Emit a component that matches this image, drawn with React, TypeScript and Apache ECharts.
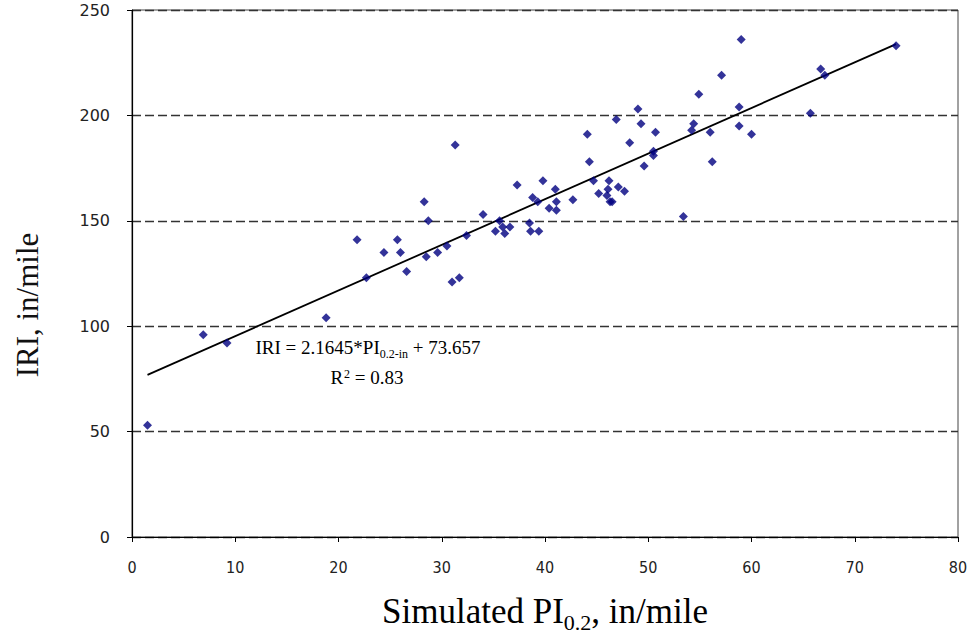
import React, { useEffect, useRef } from "react";
import * as echarts from "echarts";

const xTicks = [0, 10, 20, 30, 40, 50, 60, 70, 80];
const yTicks = [0, 50, 100, 150, 200, 250];

const piValues = [
  1.5, 6.9, 9.2, 18.8, 21.8, 22.7, 24.4, 25.7, 26.0, 26.6,
  28.3, 28.5, 28.7, 29.6, 30.5, 31.0, 31.3, 31.7, 32.4, 34.0,
  35.2, 35.6, 35.9, 36.1, 36.6, 37.3, 38.5, 38.6, 38.8, 39.3,
  39.4, 39.8, 40.4, 41.0, 41.1, 41.1, 42.7, 44.1, 44.3, 44.7,
  45.2, 46.0, 46.1, 46.2, 46.3, 46.5, 46.9, 47.1, 47.7, 48.2,
  49.0, 49.3, 49.6, 50.5, 50.5, 50.7, 53.4, 54.2, 54.4, 54.9,
  56.0, 56.2, 57.1, 58.8, 58.8, 59.0, 60.0, 65.7, 66.7, 67.1,
  74.0,
];
const iriValues = [
  53, 96, 92, 104, 141, 123, 135, 141, 135, 126,
  159, 133, 150, 135, 138, 121, 186, 123, 143, 153,
  145, 150, 147, 144, 147, 167, 149, 145, 161, 159,
  145, 169, 156, 165, 159, 155, 160, 191, 178, 169,
  163, 162, 165, 169, 159, 159, 198, 166, 164, 187,
  203, 196, 176, 183, 181, 192, 152, 193, 196, 210,
  192, 178, 219, 195, 204, 236, 191, 201, 222, 219,
  233,
];

const slope = 2.1645;
const intercept = 73.657;
const fitRange = [1.5, 74.0];

const SERIF = "'Liberation Serif', 'Times New Roman', serif";

export default function App() {
  const ref = useRef<HTMLDivElement>(null);

  useEffect(() => {
    if (!ref.current) return;
    const chart = echarts.init(ref.current, null, { renderer: "svg" });
    const points = piValues.map((x, i) => [x, iriValues[i]]);
    const fit = fitRange.map((x) => [x, slope * x + intercept]);

    const subRich = {
      b: { fontFamily: SERIF, fontSize: 19, lineHeight: 22, verticalAlign: "top", color: "#111" },
      s: { fontFamily: SERIF, fontSize: 12, lineHeight: 12, verticalAlign: "top", padding: [10, 0, 0, 0], color: "#111" },
      p: { fontFamily: SERIF, fontSize: 12, lineHeight: 12, verticalAlign: "top", padding: [0, 0, 0, 1], color: "#111" },
    };
    const titleRich = {
      b: { fontFamily: SERIF, fontSize: 35, lineHeight: 40, verticalAlign: "top", color: "#111" },
      s: { fontFamily: SERIF, fontSize: 22, lineHeight: 22, verticalAlign: "top", padding: [17, 0, 0, 0], color: "#111" },
    };

    chart.setOption({
      animation: false,
      backgroundColor: "#ffffff",
      grid: {
        left: 132,
        right: 15,
        top: 10,
        bottom: 97,
        show: true,
        borderColor: "#444",
        borderWidth: 1,
        backgroundColor: "transparent",
        outerBoundsMode: "none",
      },
      xAxis: {
        type: "value",
        min: xTicks[0],
        max: xTicks[xTicks.length - 1],
        interval: 10,
        axisLine: { show: true, lineStyle: { color: "#000", width: 1.2 } },
        axisTick: { show: true, length: 5, lineStyle: { color: "#000" } },
        splitLine: { show: false },
        axisLabel: {
          margin: 22,
          fontFamily: "'DejaVu Sans Condensed', 'Liberation Sans Narrow', 'Liberation Sans', sans-serif",
          fontSize: 16,
          color: "#222",
        },
      },
      yAxis: {
        type: "value",
        min: yTicks[0],
        max: yTicks[yTicks.length - 1],
        interval: 50,
        axisLine: { show: true, lineStyle: { color: "#000", width: 1.2 } },
        axisTick: { show: true, length: 5, lineStyle: { color: "#000" } },
        splitLine: {
          show: true,
          lineStyle: { color: "#333", width: 1.3, type: [9, 4] },
        },
        axisLabel: {
          margin: 22,
          fontFamily: "'DejaVu Sans', Verdana, sans-serif",
          fontSize: 16,
          color: "#222",
        },
      },
      series: [
        {
          type: "scatter",
          data: points,
          symbol: "diamond",
          symbolSize: 9,
          itemStyle: { color: "#000080" },
          z: 3,
        },
        {
          type: "line",
          data: fit,
          symbol: "none",
          lineStyle: { color: "#000", width: 1.8 },
          z: 2,
        },
      ],
      graphic: [
        {
          type: "text",
          x: 27,
          y: 305,
          rotation: Math.PI / 2,
          style: {
            text: "IRI, in/mile",
            fontFamily: SERIF,
            fontSize: 31,
            fill: "#111",
            align: "center",
            verticalAlign: "middle",
          },
        },
        {
          type: "text",
          x: 545,
          y: 614,
          style: {
            text: "{b|Simulated PI}{s|0.2}{b|, in/mile}",
            rich: titleRich,
            align: "center",
            verticalAlign: "middle",
          },
        },
        {
          type: "text",
          x: 368,
          y: 349,
          style: {
            text: "{b|IRI = 2.1645*PI}{s|0.2-in}{b| + 73.657}",
            rich: subRich,
            align: "center",
            verticalAlign: "middle",
          },
        },
        {
          type: "text",
          x: 367,
          y: 379,
          style: {
            text: "{b|R}{p|2}{b| = 0.83}",
            rich: subRich,
            align: "center",
            verticalAlign: "middle",
          },
        },
      ],
    });
    return () => chart.dispose();
  }, []);

  return (
    <div
      ref={ref}
      style={{ position: "fixed", left: 0, top: 0, width: 973, height: 634 }}
    />
  );
}
